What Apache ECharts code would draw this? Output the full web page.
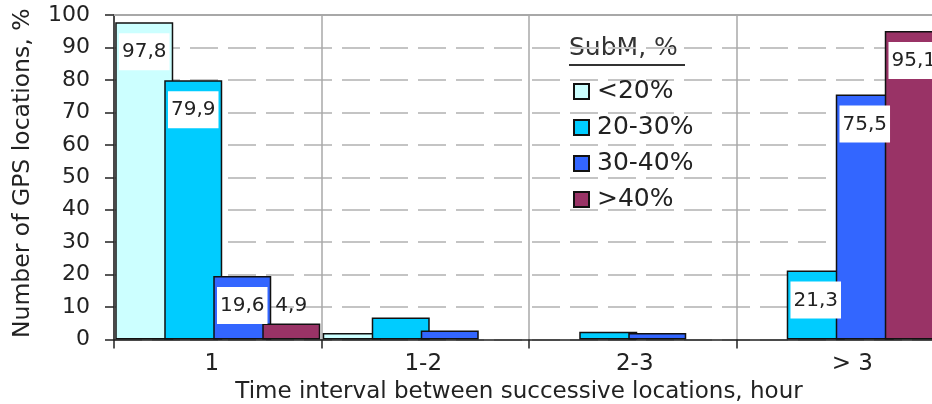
<!DOCTYPE html>
<html><head><meta charset="utf-8">
<script src="https://cdn.jsdelivr.net/npm/echarts@6/dist/echarts.min.js"></script>
<style>html,body{margin:0;padding:0;background:#fff}#c{width:932px;height:404px}</style>
</head><body><div id="c"></div>
<script>
// ---- data ----
const categories = ['1', '1-2', '2-3', '> 3'];
const seriesNames = ['<20%', '20-30%', '30-40%', '>40%'];
const valuesLt20 = [97.8, 2.0, 0, 0];
const values20to30 = [79.9, 6.8, 2.4, 21.3];
const values30to40 = [19.6, 2.8, 2.0, 75.5];
const valuesGt40 = [4.9, 0, 0, 95.1];
// which bars carry a value label: 'in' = inside top on white box, 'top' = above bar
const labelsLt20 = ['in', null, null, null];
const labels20to30 = ['in', null, null, 'in'];
const labels30to40 = ['in', null, null, 'in'];
const labelsGt40 = ['top', null, null, 'in'];
const legendTitle = 'SubM, %';
const xTitle = 'Time interval between successive locations, hour';
const yTitle = 'Number of GPS locations, %';

// ---- style ----
const colors = ['#CCFFFF', '#00CCFF', '#3366FF', '#993366'];
const catLabelShift = [-6, -2, 2, 12]; // horizontal nudge of category labels (px)
const allValues = [valuesLt20, values20to30, values30to40, valuesGt40];
const allLabels = [labelsLt20, labels20to30, labels30to40, labelsGt40];
const FONT = '"DejaVu Sans", Verdana, sans-serif';
const fmt = v => String(v).replace('.', ',');

function buildData(vals, labs) {
  return vals.map((v, i) => {
    const item = { value: v === 0 ? '-' : v };
    const l = labs[i];
    if (l === 'in') {
      item.label = { show: true, position: 'insideTop', distance: 11,
        backgroundColor: '#ffffff', padding: [9, 3, 8, 3] };
    } else if (l === 'top') {
      item.label = { show: true, position: 'top', distance: 0,
        backgroundColor: 'transparent', padding: [9, 3, 8, 3] };
    } else {
      item.label = { show: false };
    }
    return item;
  });
}

const catData = categories.map((c, i) => {
  const s = catLabelShift[i];
  return { value: c, textStyle: { padding: s >= 0 ? [0, 0, 0, 2 * s] : [0, -2 * s, 0, 0] } };
});

const chart = echarts.init(document.getElementById('c'), null, { renderer: 'canvas' });
const option = {
  animation: false,
  backgroundColor: '#ffffff',
  textStyle: { fontFamily: FONT },
  grid: { left: 114, top: 15, width: 830, bottom: 64.5, outerBoundsMode: 'none', containLabel: false },
  legend: {
    orient: 'vertical', left: 568, top: 74,
    itemWidth: 15, itemHeight: 15, itemGap: 11, icon: 'rect',
    textStyle: { fontSize: 25, color: '#222', fontFamily: FONT, padding: [0, 0, 0, 3] },
    data: seriesNames
  },
  graphic: [
    { type: 'text', left: 569, top: 36,
      style: { text: legendTitle, fontSize: 25, fill: '#333', fontFamily: FONT } },
    { type: 'line', shape: { x1: 569, y1: 65, x2: 685, y2: 65 },
      style: { stroke: '#333', lineWidth: 2 } }
  ],
  xAxis: [{
    type: 'category', data: catData,
    axisLine: { lineStyle: { color: '#222', width: 1.5 } },
    axisTick: { show: true, length: 9, lineStyle: { color: '#222', width: 1.5 } },
    axisLabel: { fontSize: 23, color: '#222', margin: 13, fontFamily: FONT },
    splitLine: { show: true, lineStyle: { color: '#a8a8a8', width: 1.5, type: 'solid' } },
    name: xTitle, nameLocation: 'middle', nameGap: 34,
    nameTextStyle: { fontSize: 23, color: '#222', fontFamily: FONT, padding: [0, 20, 0, 0] }
  }, {
    type: 'category', data: categories, position: 'top',
    axisLine: { show: true, lineStyle: { color: '#a8a8a8', width: 2 } },
    axisTick: { show: false }, axisLabel: { show: false }, splitLine: { show: false }
  }],
  yAxis: {
    type: 'value', min: 0, max: 100, interval: 10,
    axisLine: { show: true, lineStyle: { color: '#222', width: 1.5 } },
    axisTick: { show: true, length: 9, lineStyle: { color: '#222', width: 1.5 } },
    axisLabel: { fontSize: 22, color: '#222', margin: 24, fontFamily: FONT },
    splitLine: { show: true, lineStyle: { color: '#c4c4c4', width: 2, type: [28, 10] } },
    name: yTitle, nameLocation: 'middle', nameGap: 79, nameRotate: 90,
    nameTextStyle: { fontSize: 23.5, color: '#222', fontFamily: FONT, padding: [0, 0, 0, 8] }
  },
  series: seriesNames.map((n, si) => ({
    name: n, type: 'bar', xAxisIndex: 0,
    barWidth: 58, barGap: '-15.5%',
    itemStyle: { color: colors[si], borderColor: '#111', borderWidth: 1.5 },
    label: { fontSize: 20, lineHeight: 20, color: '#222', fontFamily: FONT,
      formatter: p => fmt(p.value) },
    data: buildData(allValues[si], allLabels[si])
  }))
};
chart.setOption(option);
</script>
</body></html>
